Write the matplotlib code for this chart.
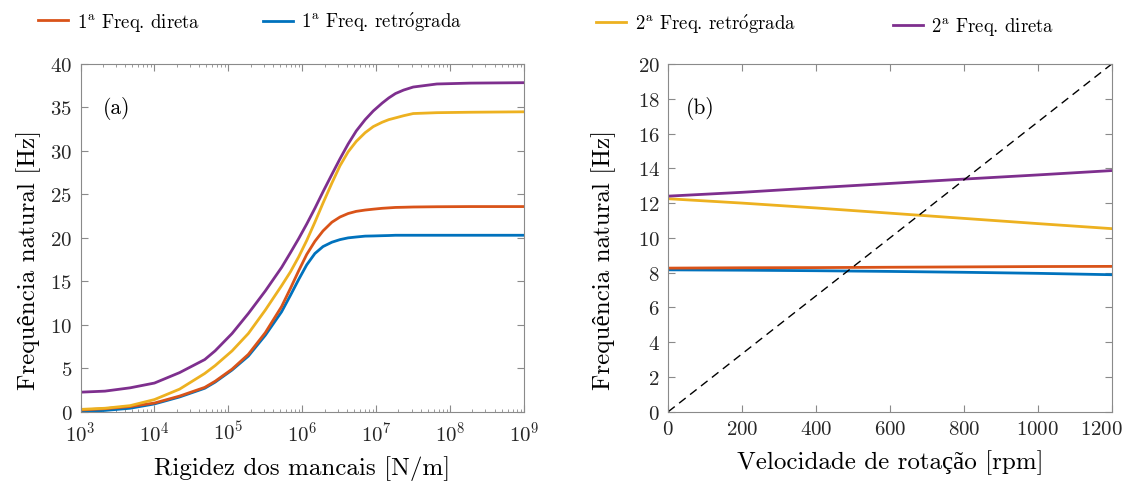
import matplotlib
matplotlib.use("Agg")
import matplotlib.pyplot as plt
from matplotlib.lines import Line2D
from matplotlib.transforms import ScaledTranslation
import numpy as np

plt.rcParams['font.family'] = ['cmr10', 'Liberation Serif']
plt.rcParams['mathtext.fontset'] = 'cm'
plt.rcParams['axes.formatter.use_mathtext'] = True
plt.rcParams['axes.unicode_minus'] = False

# (a) natural frequency vs bearing stiffness, log10(k) in N/m
log_k = [3.0, 3.33, 3.67, 4.0, 4.34, 4.68, 4.82, 5.05, 5.27, 5.50,
         5.72, 5.84, 5.95, 6.06, 6.17, 6.28, 6.40, 6.51, 6.62, 6.73,
         6.85, 6.96, 7.08, 7.17, 7.26, 7.37, 7.5, 7.82, 8.27, 9.0]
f1_direta = [0.2, 0.35, 0.6, 1.0, 1.8, 2.8, 3.5, 4.9, 6.6, 9.1,
             12.1, 14.2, 16.2, 18.1, 19.6, 20.8, 21.8, 22.4, 22.8, 23.05,
             23.2, 23.3, 23.4, 23.45, 23.5, 23.52, 23.55, 23.58, 23.6, 23.6]
f1_retro = [0.0, 0.15, 0.4, 0.9, 1.7, 2.7, 3.4, 4.8, 6.4, 8.8,
            11.5, 13.4, 15.2, 16.9, 18.2, 19.0, 19.5, 19.8, 20.0, 20.1,
            20.2, 20.22, 20.25, 20.27, 20.3, 20.3, 20.3, 20.3, 20.3, 20.3]
f2_retro = [0.27, 0.4, 0.7, 1.4, 2.6, 4.4, 5.3, 7.0, 9.0, 11.7,
            14.5, 16.1, 17.8, 19.7, 21.8, 24.0, 26.3, 28.3, 29.9, 31.1,
            32.1, 32.8, 33.3, 33.6, 33.8, 34.05, 34.3, 34.4, 34.45, 34.5]
f2_direta = [2.25, 2.37, 2.75, 3.3, 4.5, 6.0, 7.0, 9.0, 11.3, 13.9,
             16.6, 18.3, 19.9, 21.6, 23.4, 25.3, 27.3, 29.1, 30.8, 32.3,
             33.6, 34.6, 35.5, 36.1, 36.6, 37.0, 37.35, 37.7, 37.8, 37.85]

# (b) Campbell diagram
rpm = [0, 200, 400, 600, 800, 1000, 1200]
b1_direta = [8.26, 8.28, 8.29, 8.31, 8.33, 8.35, 8.36]
b1_retro = [8.16, 8.14, 8.11, 8.07, 8.02, 7.96, 7.88]
b2_retro = [12.25, 12.0, 11.72, 11.42, 11.12, 10.82, 10.53]
b2_direta = [12.4, 12.62, 12.88, 13.13, 13.38, 13.62, 13.87]
rpm_line = [0, 1200]
hz_line = [0, 20]

c_orange = '#D95319'
c_blue = '#0072BD'
c_yellow = '#EDB120'
c_purple = '#7E2F8E'
lw = 2.0

fig = plt.figure(figsize=(11.23, 4.85), dpi=100)
ax1 = fig.add_axes([0.0717, 0.149, 0.395, 0.717])
ax2 = fig.add_axes([0.595, 0.149, 0.395, 0.717])

k = 10.0 ** np.array(log_k)
ax1.plot(k, f1_retro, color=c_blue, lw=lw)
ax1.plot(k, f1_direta, color=c_orange, lw=lw)
ax1.plot(k, f2_retro, color=c_yellow, lw=lw)
ax1.plot(k, f2_direta, color=c_purple, lw=lw)
ax1.set_xscale('log')
ax1.set_xlim(1e3, 1e9)
ax1.set_ylim(0, 40)
ax1.set_yticks(range(0, 41, 5))
ax1.set_xticks([10.0 ** e for e in range(3, 10)])
ax1.set_xlabel('Rigidez dos mancais [N/m]', fontsize=18, labelpad=8)
ax1.set_ylabel('Frequência natural [Hz]', fontsize=18)
ax1.yaxis.set_label_coords(-0.088, 0.44)
ax1.text(0.05, 0.874, '(a)', transform=ax1.transAxes, fontsize=15.5, va='center')

ax2.plot(rpm, b1_retro, color=c_blue, lw=lw)
ax2.plot(rpm, b1_direta, color=c_orange, lw=lw)
ax2.plot(rpm, b2_retro, color=c_yellow, lw=lw)
ax2.plot(rpm, b2_direta, color=c_purple, lw=lw)
ax2.plot(rpm_line, hz_line, color='k', lw=1.0, ls=(0, (6, 4)))
ax2.set_xlim(0, 1200)
ax2.set_ylim(0, 20)
ax2.set_yticks(range(0, 21, 2))
ax2.set_xticks(range(0, 1201, 200))
ax2.set_xlabel('Velocidade de rotação [rpm]', fontsize=18, labelpad=8)
ax2.set_ylabel('Frequência natural [Hz]', fontsize=18)
ax2.yaxis.set_label_coords(-0.117, 0.44)
ax2.text(0.04, 0.874, '(b)', transform=ax2.transAxes, fontsize=15.5, va='center')

for ax in (ax1, ax2):
    for s in ax.spines.values():
        s.set_color('#8a8a8a')
        s.set_linewidth(0.8)
    ax.tick_params(which='both', direction='in', top=True, right=True,
                   color='#8a8a8a', labelsize=15, labelcolor='#262626', pad=6)
    ax.tick_params(which='major', length=5)
    ax.tick_params(which='minor', length=2.5)

# keep the last rpm label inside the figure
fig.canvas.draw()
last = ax2.get_xticklabels()[-1]
last.set_transform(last.get_transform() + ScaledTranslation(-0.1, 0, fig.dpi_scale_trans))

# legend entries spread along the top
entries = [
    (c_orange, '1$^{\\mathrm{a}}$ Freq. direta', 0.034, 0.953),
    (c_blue, '1$^{\\mathrm{a}}$ Freq. retr$\\acute{\\mathrm{o}}$grada', 0.234, 0.953),
    (c_yellow, '2$^{\\mathrm{a}}$ Freq. retr$\\acute{\\mathrm{o}}$grada', 0.531, 0.950),
    (c_purple, '2$^{\\mathrm{a}}$ Freq. direta', 0.795, 0.944),
]
for col, lab, x, y in entries:
    h = Line2D([], [], color=col, lw=lw)
    fig.legend([h], [lab], loc='center left', bbox_to_anchor=(x, y),
               frameon=False, fontsize=13.5, handlelength=1.6,
               handletextpad=0.45, borderpad=0, borderaxespad=0)

fig.savefig('out.png', dpi=100)
